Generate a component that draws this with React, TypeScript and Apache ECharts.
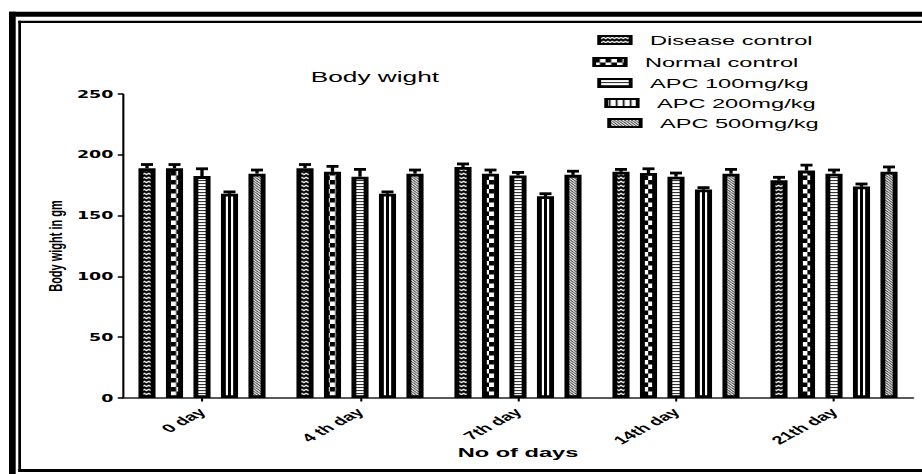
import React, { useEffect, useRef } from 'react';
import * as echarts from 'echarts';

// ---------- data ----------
const categories = ['0 day', '4 th day', '7th day', '14th day', '21th day'];
const seriesNames = ['Disease control', 'Normal control', 'APC 100mg/kg', 'APC 200mg/kg', 'APC 500mg/kg'];
const diseaseControl = [189, 189, 190, 186, 179];
const normalControl = [189, 186, 184.5, 185, 187];
const apc100 = [182.5, 182, 183, 182, 184.5];
const apc200 = [168, 168, 166, 171.5, 174];
const apc500 = [184.5, 184.5, 183.5, 184.5, 186];
const diseaseControlErr = [3, 3, 2.5, 2, 2.5];
const normalControlErr = [3, 4.5, 3, 3.5, 4.5];
const apc100Err = [6, 6, 2.5, 3, 3];
const apc200Err = [1.5, 1.5, 2, 1.5, 2];
const apc500Err = [3, 3, 3, 3.5, 4];
const yMin = 0;
const yMax = 250;
const yInterval = 50;

const VALUES = [diseaseControl, normalControl, apc100, apc200, apc500];
const ERRS = [diseaseControlErr, normalControlErr, apc100Err, apc200Err, apc500Err];

// ---------- layout (the picture is horizontally stretched) ----------
const W = 527;
const H = 474;
const S = 922 / W;
const ux = (x: number) => x / S;
const FONT = '"Liberation Sans", Arial, Helvetica, sans-serif';
const BORDER = 2.8;
const BW = ux(22) - BORDER;
const STEP = ux(27.5);
const GAP = ((STEP - BW) / BW) * 100 + '%';
const LEGEND_TEXT_X = [648, 643, 648, 655, 658];
const LEGEND_Y = [40, 62, 83, 103, 123];

function pat(w: number, h: number, draw: (c: CanvasRenderingContext2D) => void) {
  const k = 4;
  const cv = document.createElement('canvas');
  cv.width = Math.round(w * k);
  cv.height = Math.round(h * k);
  const ctx = cv.getContext('2d') as CanvasRenderingContext2D;
  ctx.scale(k, k);
  draw(ctx);
  return {
    image: cv.toDataURL(),
    repeat: 'repeat',
    imageWidth: cv.width,
    imageHeight: cv.height,
    scaleX: 1 / k,
    scaleY: 1 / k,
  } as any;
}

function buildPatterns() {
  const wavy = pat(5, 4, (c) => {
    c.fillStyle = '#000';
    c.fillRect(0, 0, 5, 4);
    c.strokeStyle = '#fff';
    c.lineWidth = 1.0;
    c.beginPath();
    c.moveTo(-1.25, 2.7);
    c.lineTo(0, 1.2);
    c.lineTo(1.25, 2.7);
    c.lineTo(2.5, 1.2);
    c.lineTo(3.75, 2.7);
    c.lineTo(5, 1.2);
    c.lineTo(6.25, 2.7);
    c.stroke();
  });
  const checker = pat(6.5, 9, (c) => {
    c.fillStyle = '#fff';
    c.fillRect(0, 0, 6.5, 9);
    c.fillStyle = '#000';
    c.fillRect(0, 0, 3.25, 4.5);
    c.fillRect(3.25, 4.5, 3.25, 4.5);
  });
  const hlines = pat(1, 3, (c) => {
    c.fillStyle = '#fff';
    c.fillRect(0, 0, 1, 3);
    c.fillStyle = '#333';
    c.fillRect(0, 0, 1, 1.1);
  });
  const white = '#fff';
  const diag = pat(2, 2.5, (c) => {
    c.fillStyle = '#fff';
    c.fillRect(0, 0, 2, 2.5);
    c.strokeStyle = '#222';
    c.lineWidth = 0.7;
    [-2, 0, 2].forEach((dx) => {
      c.beginPath();
      c.moveTo(dx, 0);
      c.lineTo(dx + 2, 2.5);
      c.stroke();
    });
  });
  const vlines = pat(4, 1, (c) => {
    c.fillStyle = '#fff';
    c.fillRect(0, 0, 4, 1);
    c.fillStyle = '#000';
    c.fillRect(1.5, 0, 1, 1);
  });
  return { fills: [wavy, checker, hlines, white, diag], vlines };
}

export default function App() {
  const ref = useRef<HTMLDivElement>(null);
  useEffect(() => {
    if (!ref.current) return;
    const chart = echarts.init(ref.current, undefined, { renderer: 'svg' });
    const { fills, vlines } = buildPatterns();

    const errData: number[][] = [];
    VALUES.forEach((vals, si) => vals.forEach((v, ci) => errData.push([ci, v, ERRS[si][ci], si])));

    const option: any = {
      animation: false,
      backgroundColor: '#fff',
      title: {
        text: 'Body wight',
        left: ux(375) - 36.7,
        top: 69.5,
        padding: 0,
        textStyle: { fontFamily: FONT, fontSize: 15, fontWeight: 'normal', color: '#000' },
      },
      legend: seriesNames.map((n, i) => ({
        data: [i === 3 ? { name: n, itemStyle: { color: vlines } } : n],
        left: ux(LEGEND_TEXT_X[i]) - 18 - 5 - 6,
        top: LEGEND_Y[i] - 7,
        orient: 'vertical',
        padding: 0,
        itemWidth: 18,
        itemHeight: 8,
        icon: 'rect',
        selectedMode: false,
        itemStyle: { borderColor: '#000', borderWidth: 2.2 },
        textStyle: { fontFamily: FONT, fontSize: 13.5, color: '#000', padding: [0, 0, 0, 6] },
      })),
      grid: {
        left: ux(123),
        top: 94,
        width: ux(790),
        height: 304,
        containLabel: false,
        outerBoundsMode: 'none',
      },
      xAxis: {
        type: 'category',
        data: categories,
        name: 'No of days',
        nameLocation: 'middle',
        nameGap: 47,
        nameMoveOverlap: false,
        nameTextStyle: { fontFamily: FONT, fontWeight: 'bold', fontSize: 13.5, color: '#000' },
        axisLine: { show: true, lineStyle: { color: '#222', width: 1.5 } },
        axisTick: { show: true, alignWithLabel: true, length: 3.5, lineStyle: { color: '#000', width: 1.2 } },
        axisLabel: {
          interval: 0,
          rotate: 43,
          margin: 12,
          fontFamily: FONT,
          fontWeight: 'bold',
          fontSize: 11.5,
          color: '#000',
        },
        splitLine: { show: false },
      },
      yAxis: {
        type: 'value',
        min: yMin,
        max: yMax,
        interval: yInterval,
        name: 'Body wight in gm',
        nameLocation: 'middle',
        nameGap: 33,
        nameMoveOverlap: false,
        nameTextStyle: { fontFamily: FONT, fontWeight: 'bold', fontSize: 11, color: '#000' },
        axisLine: { show: true, lineStyle: { color: '#000', width: 1.2 } },
        axisTick: { show: true, length: 3, lineStyle: { color: '#000', width: 1.5 } },
        axisLabel: {
          margin: 5.5,
          fontFamily: '"DejaVu Sans", sans-serif',
          fontWeight: 'bold',
          fontSize: 10,
          color: '#000',
        },
        splitLine: { show: false },
      },
      graphic: [
        { type: 'rect', silent: true, shape: { x: ux(9), y: 11.7, width: ux(6.7), height: 480 }, style: { fill: '#000' } },
        { type: 'rect', silent: true, shape: { x: ux(9), y: 11.7, width: 700, height: 5 }, style: { fill: '#000' } },
        { type: 'rect', silent: true, shape: { x: ux(18.3), y: 20.7, width: ux(2.7), height: 451.3 }, style: { fill: '#000' } },
        { type: 'rect', silent: true, shape: { x: ux(18.3), y: 20.7, width: 700, height: 2.3 }, style: { fill: '#000' } },
        { type: 'rect', silent: true, shape: { x: ux(18.3), y: 469, width: 700, height: 3 }, style: { fill: '#000' } },
      ],
      series: [
        ...seriesNames.map((n, i) => ({
          type: 'bar',
          name: n,
          data: VALUES[i],
          barWidth: BW,
          barGap: GAP,
          itemStyle: { color: fills[i], borderColor: '#000', borderWidth: BORDER },
          emphasis: { disabled: true },
          z: 2,
        })),
        {
          type: 'custom',
          name: 'error',
          data: errData,
          encode: { x: 0, y: 1 },
          silent: true,
          clip: false,
          z: 5,
          renderItem: (_p: any, api: any) => {
            const ci = api.value(0);
            const v = api.value(1);
            const e = api.value(2);
            const si = api.value(3);
            const p0 = api.coord([ci, v]);
            const p1 = api.coord([ci, v + e]);
            const pb = api.coord([ci, 0]);
            const x = p0[0] + (si - 2) * STEP;
            const cap = ux(12);
            const children: any[] = [
              { type: 'line', shape: { x1: x, y1: p0[1], x2: x, y2: p1[1] }, style: { stroke: '#000', lineWidth: 1.9 } },
              { type: 'line', shape: { x1: x - cap / 2, y1: p1[1], x2: x + cap / 2, y2: p1[1] }, style: { stroke: '#000', lineWidth: 2.8 } },
            ];
            if (si === 3) {
              children.push({
                type: 'line',
                shape: { x1: x, y1: pb[1], x2: x, y2: p0[1] },
                style: { stroke: '#000', lineWidth: 1.7 },
              });
            }
            return { type: 'group', children };
          },
        },
      ],
    };
    chart.setOption(option);
    return () => chart.dispose();
  }, []);

  return (
    <div
      ref={ref}
      style={{
        position: 'fixed',
        left: 0,
        top: 0,
        width: W,
        height: H,
        transform: `scaleX(${S})`,
        transformOrigin: '0 0',
        background: '#fff',
      }}
    />
  );
}
